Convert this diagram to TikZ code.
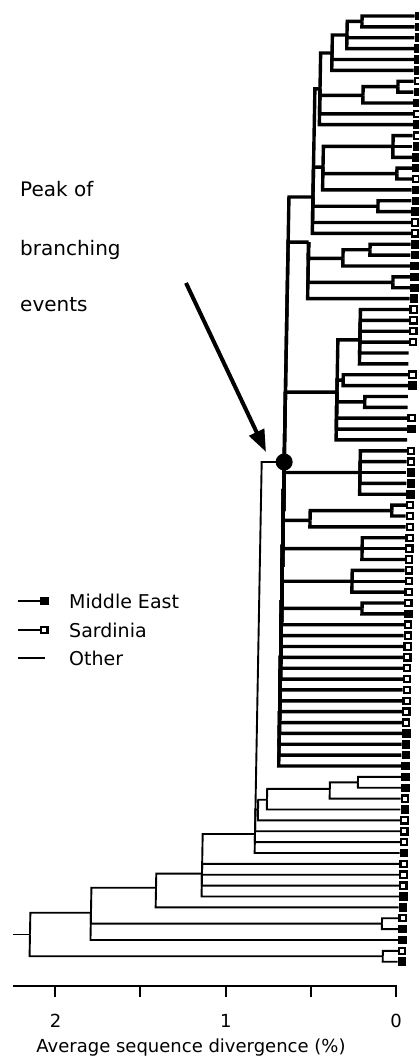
\documentclass[tikz,border=0pt]{standalone}
\usepackage{fontspec}
\setmainfont{DejaVu Sans}
\usetikzlibrary{arrows.meta}
\begin{document}
\begin{tikzpicture}[x=1pt,y=-1pt,
  declare function={ly(\i)=16+10.87*\i;},
  thickbr/.style={line width=3.4pt},
  thinbr/.style={line width=1.9pt},
  memark/.style={rectangle, fill=black, minimum size=8.5pt, inner sep=0pt, anchor=west},
  samark/.style={rectangle, draw=black, fill=white, line width=2.2pt, minimum size=6.3pt, inner sep=0pt, anchor=west},
  lbl/.style={font=\fontsize{18}{20}\selectfont, inner sep=0pt, anchor=base west},
  note/.style={lbl, font=\fontsize{20}{22}\selectfont},
  key/.style={lbl, font=\fontsize{19}{21}\selectfont},
]
\useasboundingbox (0,0) rectangle (419,1059);
\fill[white] (0,0) rectangle (419,1059);

\begin{scope}[xslant=0.018]
% tips of the tree
\foreach \i in {0,...,87} { \coordinate (l\i) at (415,{ly(\i)}); }

% upper clades
\coordinate (n1)  at (362.4,{ly(0.5)});
\coordinate (n2)  at (347.6,{ly(1.75)});
\coordinate (n3)  at (333,{ly(3.4)});
\coordinate (n5a) at (399.5,{ly(6.5)});
\coordinate (n5)  at (364.7,{ly(7.3)});
\coordinate (n4)  at (321.6,{ly(6.7)});
\coordinate (n7a) at (395.6,{ly(12)});
\coordinate (n7b) at (400,{ly(14.5)});
\coordinate (n7)  at (326,{ly(13.9)});
\coordinate (n8)  at (381.7,{ly(17.5)});
\coordinate (n6)  at (316.5,{ly(16.65)});
\coordinate (p1)  at (374.5,{ly(21.5)});
\coordinate (p)   at (347.6,{ly(22.3)});
\coordinate (q)   at (398,{ly(24.5)});
\coordinate (r)   at (313,{ly(20.8)});
\coordinate (s1)  at (366,{ly(29.8)});
\coordinate (s2)  at (350,{ly(33.5)});
\coordinate (s3)  at (372,{ly(35.5)});
\coordinate (s)   at (344,{ly(34.6)});
\coordinate (t)   at (368.5,{ly(42)});
\coordinate (u1)  at (401,{ly(45.5)});
\coordinate (u)   at (319.4,{ly(46.4)});
\coordinate (v)   at (372,{ly(49)});
\coordinate (w)   at (362.5,{ly(52)});
\coordinate (nx)  at (373,{ly(54.5)});
\coordinate (sp)  at (292.5,{ly(41.03)});
% lower clades
\coordinate (b3)  at (372,{ly(70.5)});
\coordinate (b2)  at (344,{ly(71.1)});
\coordinate (b1)  at (281.4,{ly(72.1)});
\coordinate (b)   at (272.6,{ly(73)});
\coordinate (a)   at (270,{ly(75.25)});
\coordinate (c)   at (217.7,{ly(78.9)});
\coordinate (d)   at (172,{ly(80.2)});
\coordinate (e1)  at (398.6,{ly(83.5)});
\coordinate (e)   at (107.4,{ly(82.5)});
\coordinate (f)   at (400,{ly(86.5)});
\coordinate (root) at (46.8,{ly(84.5)});
\coordinate (stub) at (29.8,{ly(84.5)});

% thick branches
\foreach \pa/\ch in {n1/l0,n1/l1,n2/n1,n2/l2,n2/l3,n3/n2,n3/l4,n3/l5,
  n5a/l6,n5a/l7,n5/n5a,n5/l8,n4/n3,n4/n5,n4/l9,n4/l10,
  n7a/l11,n7a/l12,n7a/l13,n7b/l14,n7b/l15,n7/n7a,n7/n7b,n7/l16,
  n8/l17,n8/l18,n6/n4,n6/n7,n6/n8,n6/l19,n6/l20,
  p1/l21,p1/l22,p/p1,p/l23,q/l24,q/l25,r/p,r/q,r/l26,
  s1/l27,s1/l28,s1/l29,s1/l30,s1/l31,s1/l32,s2/l33,s2/l34,s3/l35,s3/l36,
  s/s1,s/s2,s/s3,s/l37,s/l38,s/l39,
  t/l40,t/l41,t/l42,t/l43,t/l44,u1/l45,u1/l46,u/u1,u/l47,
  v/l48,v/l49,v/l50,w/l51,w/l52,w/l53,nx/l54,nx/l55,
  sp/n6,sp/r,sp/s,sp/t,sp/u,sp/v,sp/w,sp/nx}
  { \draw[thickbr] (\pa) |- (\ch); }
\foreach \i in {56,...,69} { \draw[thickbr] (sp) |- (l\i); }

% thin branches
\foreach \pa/\ch in {b3/l70,b3/l71,b2/b3,b2/l72,b1/b2,b1/l73,b/b1,b/l74,
  a/sp,a/b,a/l75,a/l76,a/l77,c/a,c/l78,c/l79,c/l80,c/l81,d/c,d/l82,
  e1/l83,e1/l84,e/d,e/e1,e/l85,f/l86,f/l87,root/e,root/f}
  { \draw[thinbr] (\pa) |- (\ch); }
\draw[thinbr] (stub) -- (root);

% origin markers
\foreach \i in {0,1,2,3,4,5,7,8,10,12,13,14,16,17,18,21,22,23,24,25,26,34,38,
  42,43,44,55,66,67,68,69,70,71,73,77,81,82,84,85,87}
  { \node[memark] (mk\i) at (l\i) {}; }
\foreach \i in {6,9,11,15,19,20,27,28,29,30,33,37,40,41,45,46,47,48,49,50,51,
  52,53,54,56,57,58,59,60,61,62,63,64,65,72,74,75,76,78,79,80,83,86}
  { \node[samark] (mk\i) at (l\i) {}; }

% peak of branching
\node[circle, fill=black, minimum size=17pt, inner sep=0pt] (peak) at (sp) {};
\end{scope}

% annotation
\node[note] (txt1) at (20,197) {Peak of};
\node[note] (txt2) at (20,255) {branching};
\node[note] (txt3) at (20,311) {events};
\coordinate (arrS) at (186,283);
\coordinate (arrT) at (266,452);
\draw[line width=4pt, -{Triangle[length=22pt,width=16pt]}] (arrS) -- (arrT);

% legend
\coordinate (lga) at (18,601); \coordinate (lgb) at (40,601);
\draw[thinbr] (lga) -- (lgb); \node[memark] (lgm) at (lgb) {};
\node[key] (lgt1) at (69,608) {Middle East};
\coordinate (lgc) at (18,630); \coordinate (lgd) at (40,630);
\draw[thinbr] (lgc) -- (lgd); \node[samark] (lgs) at (lgd) {};
\node[key] (lgt2) at (69,637) {Sardinia};
\coordinate (lge) at (18,658); \coordinate (lgf) at (45,658);
\draw[thinbr] (lge) -- (lgf);
\node[key] (lgt3) at (69,665) {Other};

% scale
\coordinate (axL) at (13,986); \coordinate (axR) at (397,986);
\draw[thinbr] (axL) -- (axR);
\foreach \k in {0,...,4} {
  \coordinate (tk\k) at ({396-85.2*\k},986);
  \draw[thinbr] (tk\k) -- ++(0,11);
}
\node[lbl, anchor=base] (tl2) at (55.6,1027) {2};
\node[lbl, anchor=base] (tl1) at (225.8,1027) {1};
\node[lbl, anchor=base] (tl0) at (396,1027) {0};
\node[lbl, anchor=base] (title) at (191,1052) {Average sequence divergence (\%)};
\end{tikzpicture}
\end{document}
